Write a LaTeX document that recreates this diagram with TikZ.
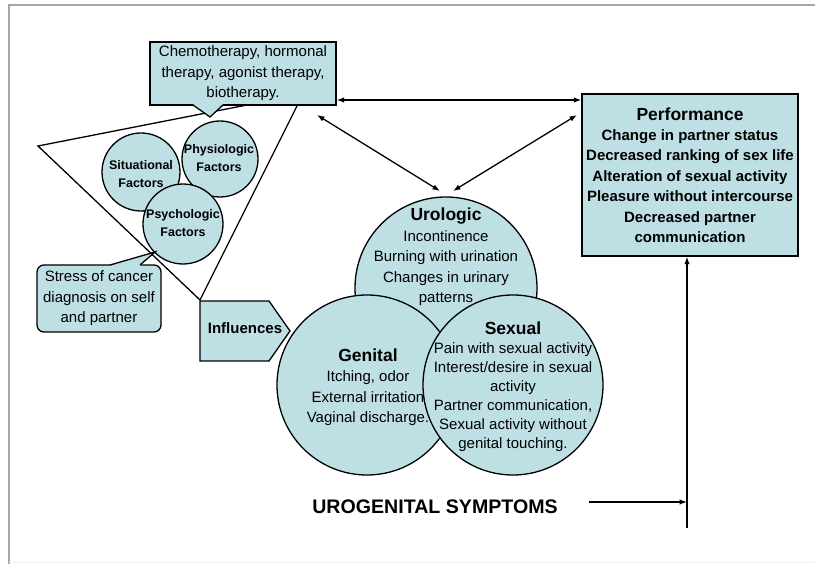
\documentclass[tikz,border=0pt]{standalone}
\usepackage{fontspec}
\setmainfont{Liberation Sans}
\usetikzlibrary{arrows.meta,calc}
\definecolor{cfill}{RGB}{190,223,228}
\begin{document}
\begin{tikzpicture}[x=1pt,y=-1pt,
  shapeline/.style={draw=black,line width=1.3pt,fill=cfill},
  outl/.style={draw=black,line width=1.3pt},
  both/.style={draw=black,line width=1.3pt,{Latex[length=7.5pt,width=5.5pt]}-{Latex[length=7.5pt,width=5.5pt]}},
  oneway/.style={draw=black,line width=1.3pt,-{Latex[length=7.5pt,width=5.5pt]}},
  txt/.style={align=center,inner sep=0pt,font=\fontsize{15}{20.5}\selectfont},
  smalltxt/.style={align=center,inner sep=0pt,font=\bfseries\fontsize{12.5}{17.5}\selectfont},
  bigcirc/.style={shapeline,circle,inner sep=0pt},
  framel/.style={draw=gray!70,line width=1.5pt}
]
\useasboundingbox (0,0) rectangle (815,564);
% frame
\draw[framel] (9,564) -- (9,5) -- (815,5);
\draw[draw=gray!12,line width=1pt] (9,562.5) -- (815,562.5);

% triangle
\draw[outl] (38,146) -- (303,94) -- (200,300) -- cycle;

% small circles
\node[bigcirc,minimum size=78pt] (sit) at (141,172) {};
\node[bigcirc,minimum size=76pt] (phys) at (220,159) {};
\node[bigcirc,minimum size=80pt] (psy) at (183,224) {};
\node[smalltxt] (sittxt) at (141,174) {Situational\\Factors};
\node[smalltxt] (phystxt) at (219,158) {Physiologic\\Factors};
\node[smalltxt] (psytxt) at (183,223) {Psychologic\\Factors};

% chemo callout
\node[shapeline,txt,minimum width=186pt,minimum height=63pt] (chemo) at (243,73.5)
  {Chemotherapy, hormonal\\therapy, agonist therapy,\\biotherapy.};
\fill[cfill] (193,104.2) -- (210,117) -- (223,104.2) -- cycle;
\draw[outl] (193,105) -- (210,117) -- (223,105);

% stress callout
\node[shapeline,txt,rounded corners=7pt,minimum width=124pt,minimum height=67pt] (stress) at (99,298.5)
  {Stress of cancer\\diagnosis on self\\and partner};
\fill[cfill] (110,265.8) -- (155,252) -- (140,265.8) -- cycle;
\draw[outl] (110,265) -- (155,252) -- (140,265);

% influences
\draw[shapeline] (200,301) -- (269,301) -- (290,331) -- (269,361) -- (200,361) -- cycle;
\node[inner sep=0pt,font=\bfseries\fontsize{15}{18}\selectfont] (infl) at (245,328) {Influences};

% big circles
\node[bigcirc,minimum size=182pt] (uro) at (446,288) {};
\node[bigcirc,minimum size=180pt] (gen) at (367,385) {};
\node[bigcirc,minimum size=180pt] (sex) at (513,385) {};
\node[txt] (urotxt) at (446,257) {{\bfseries\fontsize{17.5}{20}\selectfont Urologic}\\Incontinence\\Burning with urination\\Changes in urinary\\patterns};
\node[txt] (gentxt) at (368,387) {{\bfseries\fontsize{17.5}{20}\selectfont Genital}\\Itching, odor\\External irritation\\Vaginal discharge.};
\node[txt,font=\fontsize{15}{19}\selectfont] (sextxt) at (513,387) {{\bfseries\fontsize{17.5}{20}\selectfont Sexual}\\Pain with sexual activity\\Interest/desire in sexual\\activity\\Partner communication,\\Sexual activity without\\genital touching.};

% performance
\node[shapeline,txt,font=\bfseries\fontsize{15}{20.4}\selectfont,minimum width=216pt,minimum height=162pt] (perf) at (690,175)
  {{\fontsize{17.5}{20}\selectfont Performance}\\Change in partner status\\Decreased ranking of sex life\\Alteration of sexual activity\\Pleasure without intercourse\\Decreased partner\\communication};

% urogenital symptoms
\node[inner sep=0pt,font=\bfseries\fontsize{19.6}{22}\selectfont] (ugs) at (435,507) {UROGENITAL SYMPTOMS};

% connectors
\coordinate (hy) at (0,100);
\draw[both] (chemo.east |- hy) -- (perf.west |- hy);
\coordinate (a1) at (317,115);
\coordinate (a2) at (440,191);
\coordinate (b1) at (577,115);
\coordinate (b2) at (453,191);
\draw[both] (a1) -- (a2);
\draw[both] (b1) -- (b2);
\coordinate (vb) at (687,528);
\coordinate (hs) at (589,502);
\draw[oneway] (vb) -- (vb |- perf.south);
\draw[oneway] (hs) -- (vb |- hs);
\end{tikzpicture}
\end{document}
